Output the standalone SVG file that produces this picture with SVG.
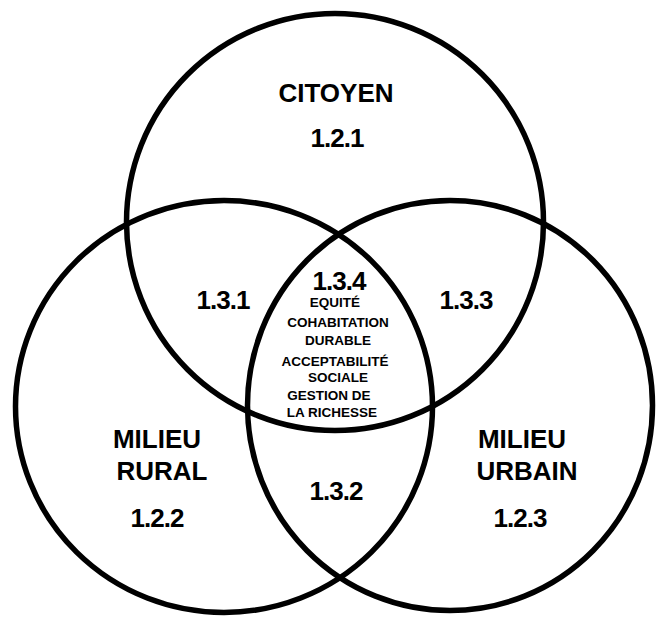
<svg xmlns="http://www.w3.org/2000/svg" width="656" height="617" viewBox="0 0 656 617">
<style>
.c{fill:none;stroke:#000;stroke-width:5.5}
text{font-family:"Liberation Sans",Arial,sans-serif;font-weight:bold;fill:#000;text-anchor:middle}
.l{font-size:26px}
.n{font-size:26px;letter-spacing:-1px}
.s{font-size:13.5px}
</style>
<rect width="656" height="617" fill="#fff"/>
<g id="circles">
<ellipse id="c-citoyen" class="c" cx="335" cy="222" rx="208.5" ry="208.5"/>
<ellipse id="c-rural" class="c" cx="224" cy="406.5" rx="208.5" ry="206"/>
<ellipse id="c-urbain" class="c" cx="450" cy="405.5" rx="202.5" ry="205"/>
</g>
<g id="citoyen">
<text class="l" x="336" y="102">CITOYEN</text>
<text class="n" x="337" y="147">1.2.1</text>
</g>
<g id="rural">
<text class="l" x="157" y="448">MILIEU</text>
<text class="l" x="162" y="480">RURAL</text>
<text class="n" x="157" y="527">1.2.2</text>
</g>
<g id="urbain">
<text class="l" x="522" y="448">MILIEU</text>
<text class="l" x="527" y="480">URBAIN</text>
<text class="n" x="520" y="527">1.2.3</text>
</g>
<g id="i131"><text class="n" x="223" y="309">1.3.1</text></g>
<g id="i133"><text class="n" x="466" y="309">1.3.3</text></g>
<g id="i132"><text class="n" x="336" y="500">1.3.2</text></g>
<g id="i134">
<text class="n" x="339" y="290">1.3.4</text>
<text class="s" x="335" y="307">EQUITÉ</text>
<text class="s" x="338" y="327">COHABITATION</text>
<text class="s" x="338" y="345">DURABLE</text>
<text class="s" x="335" y="366">ACCEPTABILITÉ</text>
<text class="s" x="338" y="382">SOCIALE</text>
<text class="s" x="329" y="400">GESTION DE</text>
<text class="s" x="332" y="417">LA RICHESSE</text>
</g>
</svg>
